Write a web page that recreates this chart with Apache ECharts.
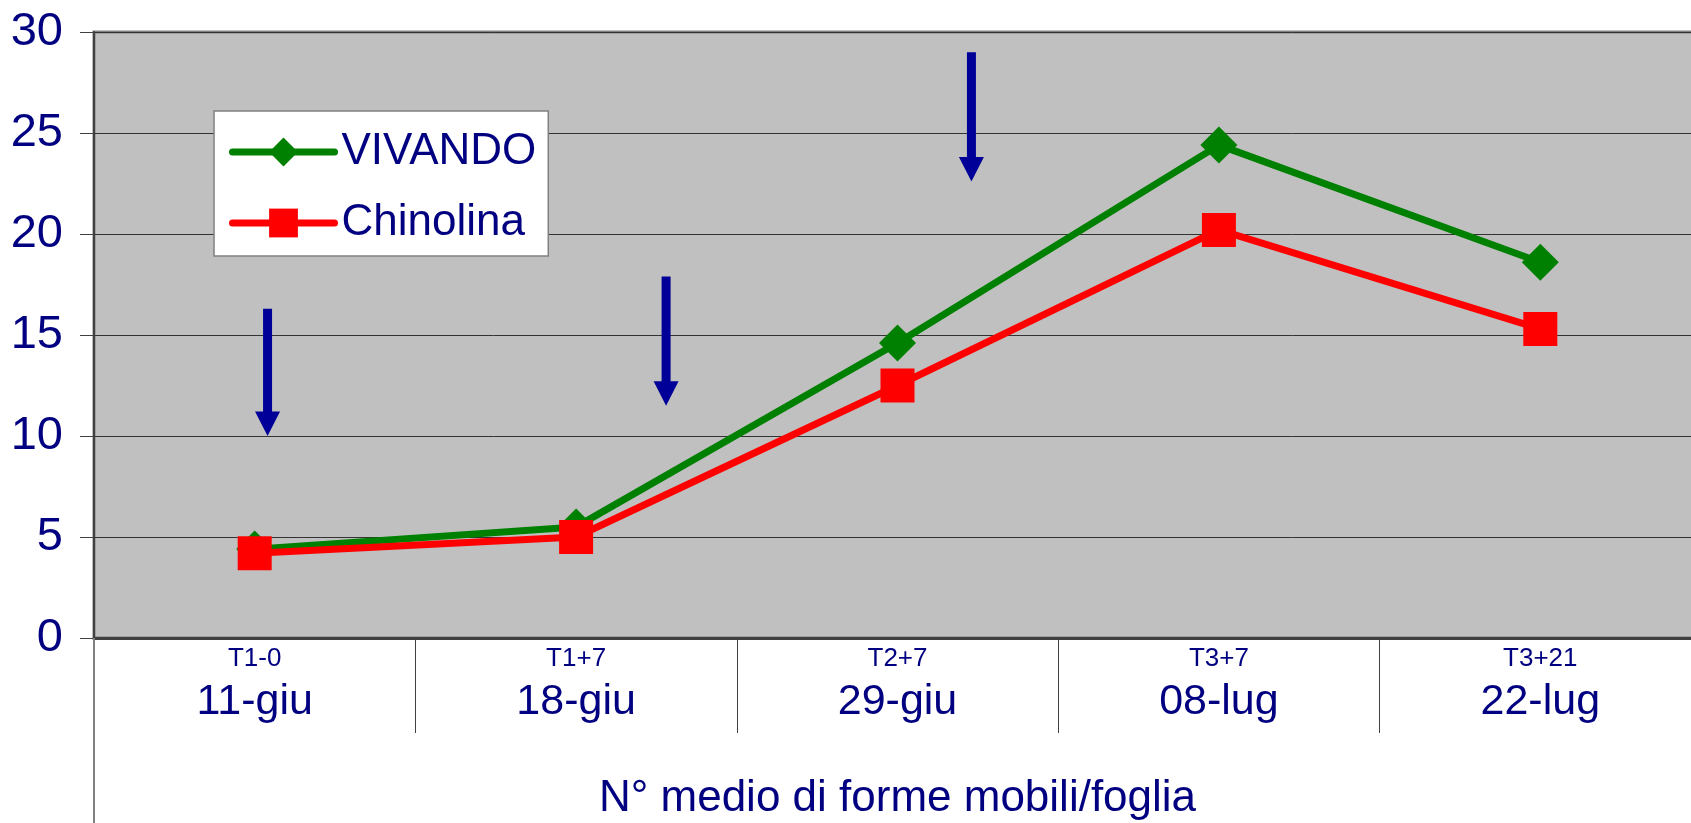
<!DOCTYPE html>
<html><head><meta charset="utf-8">
<script src="https://cdn.jsdelivr.net/npm/echarts@6/dist/echarts.min.js"></script>
<style>html,body{margin:0;padding:0;background:#fff}#c{width:1691px;height:823px}</style>
</head><body><div id="c"></div>
<script>
const phases = ['T1-0', 'T1+7', 'T2+7', 'T3+7', 'T3+21'];
const dates = ['11-giu', '18-giu', '29-giu', '08-lug', '22-lug'];
const vivando = [4.4, 5.5, 14.6, 24.4, 18.6];
const chinolina = [4.2, 5.0, 12.5, 20.2, 15.3];
// treatment arrows: x position (category index units), top value, tip value
const arrowX = [0.04, 1.28, 2.23];
const arrowTop = [16.3, 17.9, 29.0];
const arrowTip = [10.0, 11.5, 22.6];
const axisTitle = 'N° medio di forme mobili/foglia';

const FONT = '"Liberation Sans", Arial, sans-serif';
const NAVY = '#000080';

const chart = echarts.init(document.getElementById('c'), null, {renderer: 'canvas'});
chart.setOption({
  animation: false,
  backgroundColor: '#ffffff',
  grid: {
    left: 94, top: 32, width: 1607, height: 606,
    containLabel: false, outerBoundsMode: 'none',
    show: true, backgroundColor: '#c0c0c0', borderColor: '#808080', borderWidth: 3
  },
  legend: {
    data: ['VIVANDO', 'Chinolina'],
    orient: 'vertical', left: 214, top: 111,
    backgroundColor: '#ffffff', borderColor: '#808080', borderWidth: 1.5,
    padding: [19, 12, 11, 15],
    itemWidth: 102, itemHeight: 36, itemGap: 27,
    lineStyle: {width: 7, cap: 'round'},
    textStyle: {fontSize: 44, color: NAVY, fontFamily: FONT, padding: [0, 0, 0, 2]}
  },
  xAxis: [{
    type: 'category', data: phases, boundaryGap: true,
    axisLine: {lineStyle: {color: '#404040', width: 3}},
    axisTick: {show: true, length: 95, lineStyle: {color: '#404040', width: 1}},
    axisLabel: {
      margin: 6,
      formatter: function (v, i) { return '{a|' + phases[i] + '}\n{b|' + dates[i] + '}'; },
      rich: {
        a: {fontSize: 26, lineHeight: 30, color: NAVY, fontFamily: FONT},
        b: {fontSize: 43, lineHeight: 56, color: NAVY, fontFamily: FONT}
      }
    },
    splitLine: {show: false},
    name: axisTitle, nameLocation: 'middle', nameGap: 139,
    nameTextStyle: {fontSize: 44, color: NAVY, fontFamily: FONT}
  }, {
    type: 'value', min: -0.5, max: 4.5, show: false
  }],
  yAxis: {
    type: 'value', min: 0, max: 30, interval: 5,
    axisLine: {show: true, onZero: false, lineStyle: {color: '#404040', width: 2}},
    axisTick: {show: true, length: 14, lineStyle: {color: '#404040', width: 1}},
    axisLabel: {fontSize: 47, color: NAVY, fontFamily: FONT, margin: 31},
    splitLine: {show: true, lineStyle: {color: '#333333', width: 1}}
  },
  graphic: [{
    type: 'line', shape: {x1: 94, y1: 638, x2: 94, y2: 823},
    style: {stroke: '#808080', lineWidth: 2}, z: 1
  }],
  series: [{
    name: 'VIVANDO', type: 'line', data: vivando,
    symbol: 'diamond', symbolSize: 37,
    lineStyle: {color: '#008000', width: 7},
    itemStyle: {color: '#008000'}, z: 3
  }, {
    name: 'Chinolina', type: 'line', data: chinolina,
    symbol: 'rect', symbolSize: 34,
    lineStyle: {color: '#ff0000', width: 7},
    itemStyle: {color: '#ff0000'}, z: 4
  }, {
    name: 'arrows', type: 'custom', xAxisIndex: 1, yAxisIndex: 0,
    silent: true, z: 5,
    data: arrowX.map(function (x, i) { return [x, arrowTop[i], arrowTip[i]]; }),
    encode: {x: 0, y: [1, 2]},
    renderItem: function (params, api) {
      const top = api.coord([api.value(0), api.value(1)]);
      const tip = api.coord([api.value(0), api.value(2)]);
      const x = top[0], hw = 4.5, HW = 12.5, HL = 24.5;
      const hy = tip[1] - HL;
      return {
        type: 'polygon',
        shape: {points: [[x - hw, top[1]], [x + hw, top[1]], [x + hw, hy], [x + HW, hy], [x, tip[1]], [x - HW, hy], [x - hw, hy]]},
        style: {fill: '#000099'}
      };
    }
  }]
});
</script>
</body></html>
